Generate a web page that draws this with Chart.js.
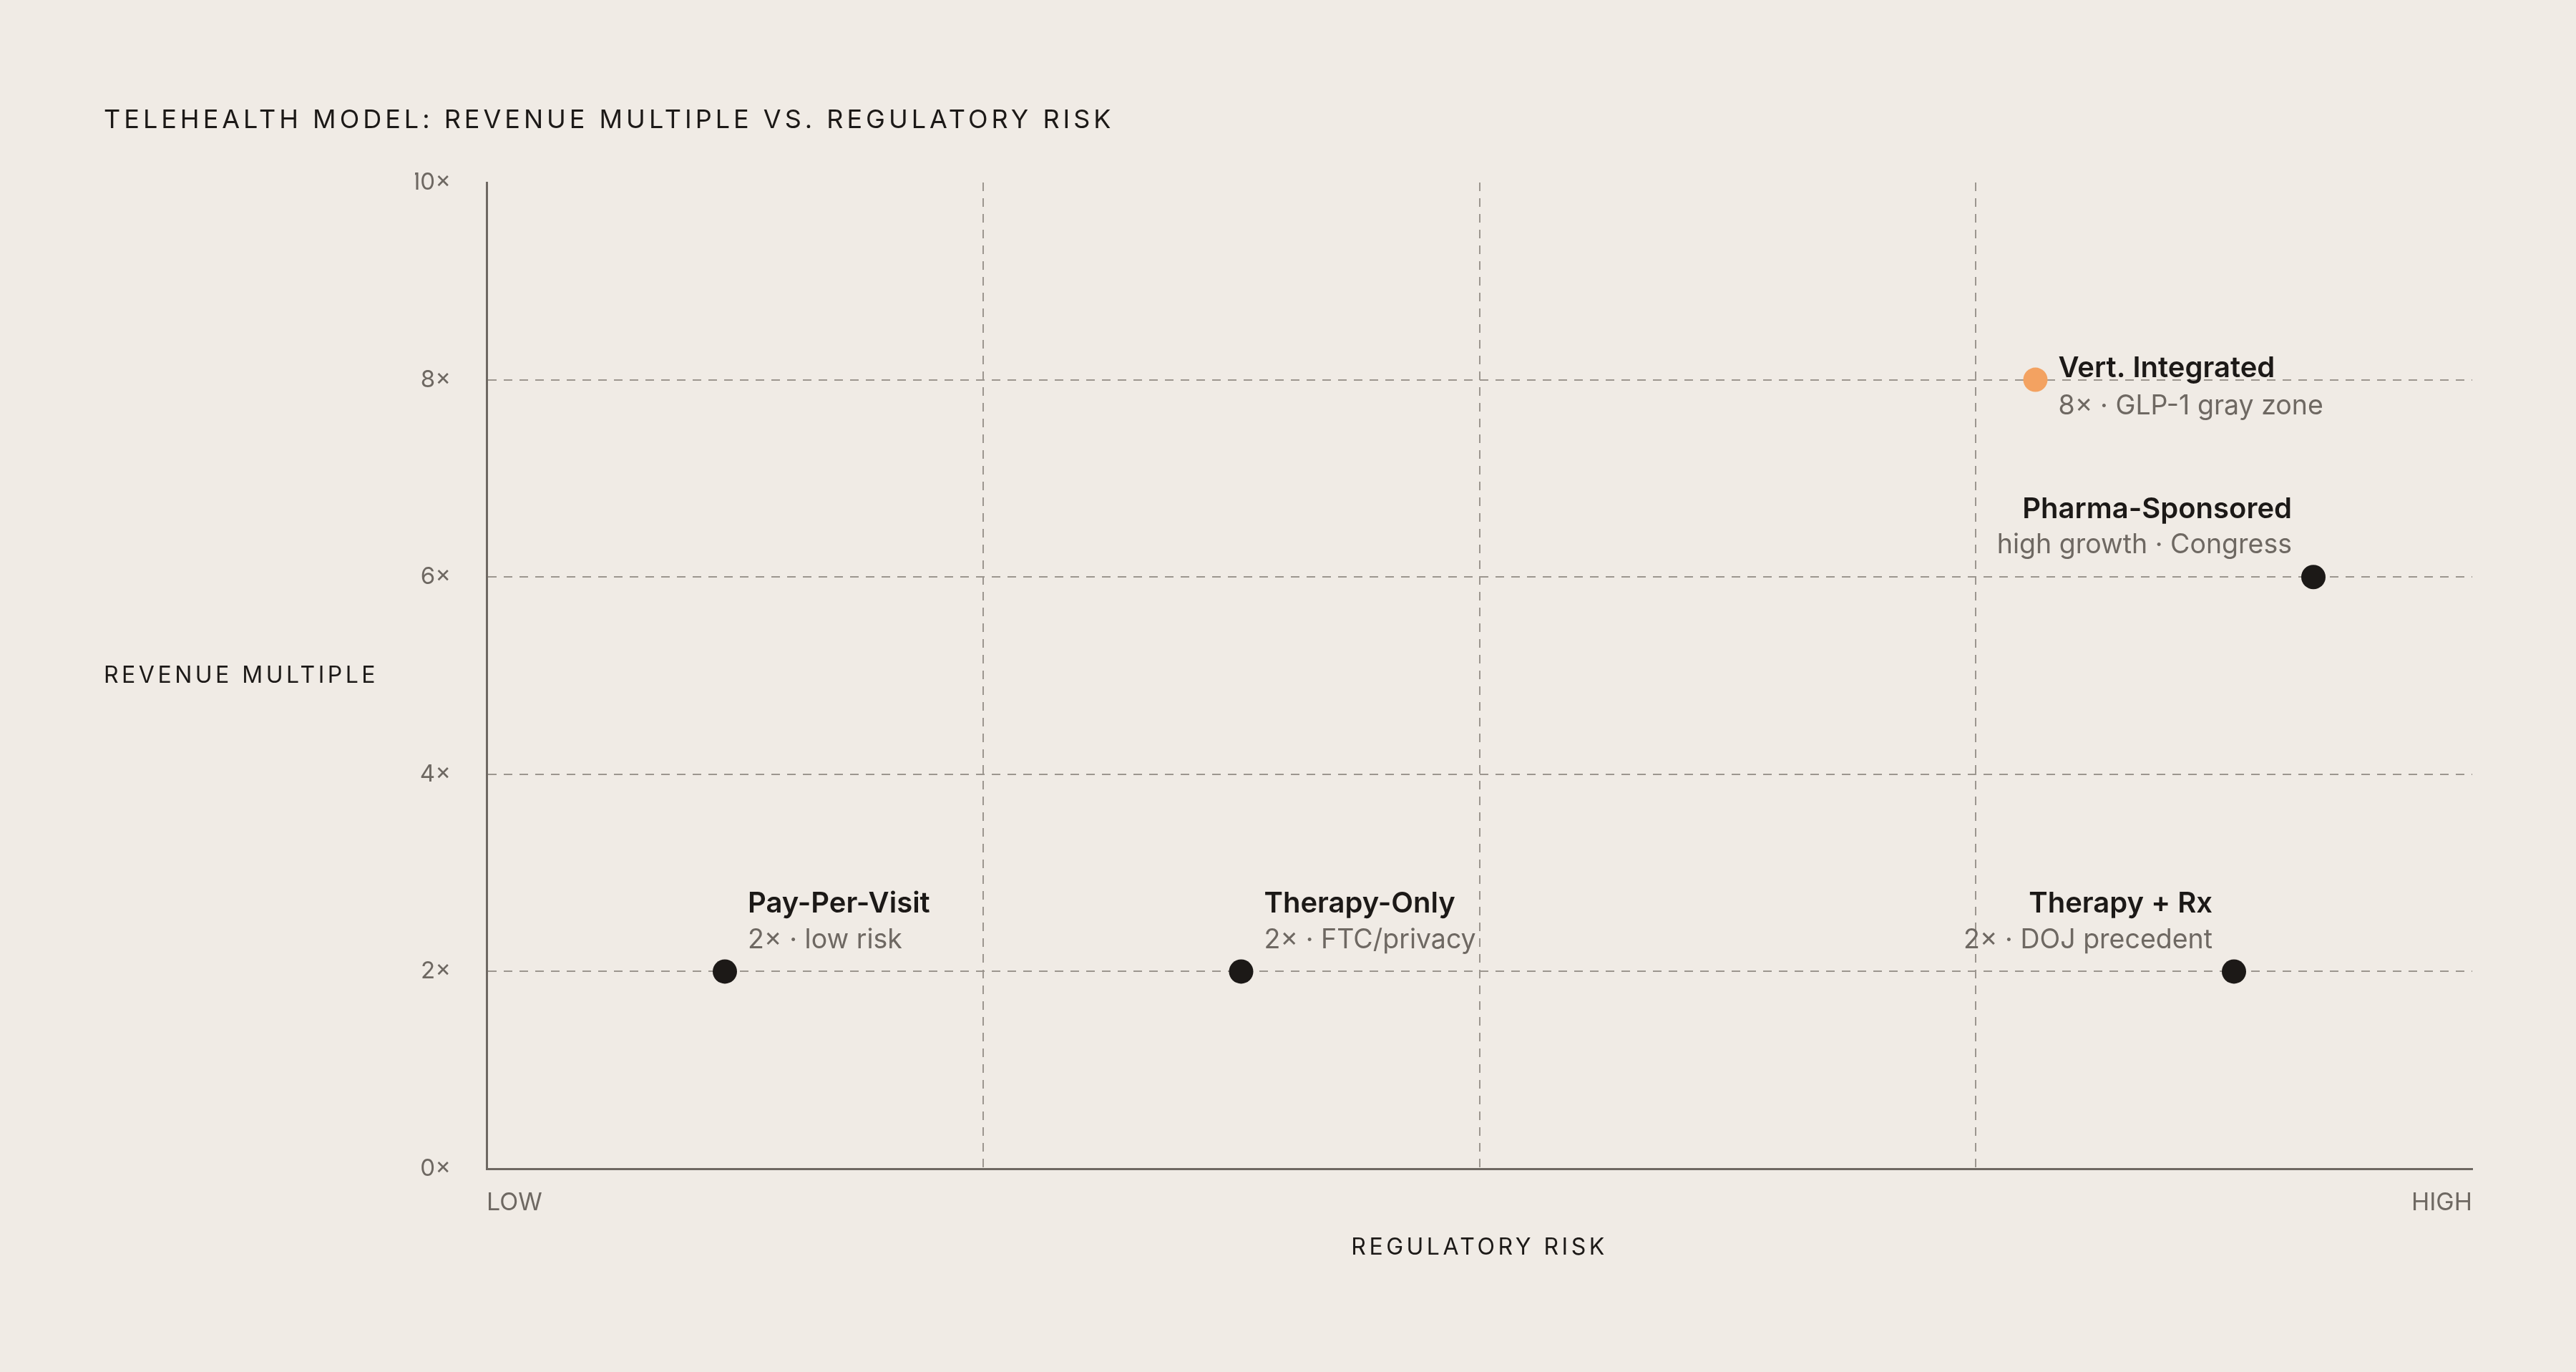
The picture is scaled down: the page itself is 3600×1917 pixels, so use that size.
<!DOCTYPE html>
<html>

<head>
  <meta charset="UTF-8">
  <title>Telehealth model</title>
  <script src="https://cdn.jsdelivr.net/npm/chart.js"></script>
  <style>
    html, body {
      margin: 0;
      padding: 0;
      background: #f0ebe5;
    }

    .wrap {
      width: 3600px;
      height: 1917px;
    }
  </style>
</head>

<body>
  <div class="wrap">
    <canvas id="riskChart" width="3600" height="1917"></canvas>
  </div>

  <script>
    // données
    const models = ['Pay-Per-Visit', 'Therapy-Only', 'Vert. Integrated', 'Pharma-Sponsored', 'Therapy + Rx'];
    const notes = ['2× · low risk', '2× · FTC/privacy', '8× · GLP-1 gray zone', 'high growth · Congress', '2× · DOJ precedent'];
    const riskScore = [12, 38, 78, 92, 88];        // 0 = LOW, 100 = HIGH
    const revenueMultiple = [2, 2, 8, 6, 2];
    const highlighted = [false, false, true, false, false];
    const yTicks = [0, 2, 4, 6, 8, 10];

    const INK = '#1c1917';
    const GREY = '#6e6862';
    const ORANGE = '#f3a261';
    const FONT = 'Inter, "DejaVu Sans", sans-serif';

    // où placer chaque étiquette par rapport au point
    const labelSide = ['above-right', 'above-right', 'beside', 'above-left', 'above-left'];

    const pointLabels = {
      id: 'pointLabels',
      afterDatasetsDraw(chart) {
        const ctx = chart.ctx;
        const meta = chart.getDatasetMeta(0);
        ctx.save();
        ctx.textBaseline = 'middle';
        meta.data.forEach((pt, i) => {
          const side = labelSide[i];
          let x, yTitle, yNote;
          if (side === 'beside') {
            x = pt.x + 32;
            yTitle = pt.y - 16;
            yNote = pt.y + 37;
            ctx.textAlign = 'left';
          } else {
            x = side === 'above-right' ? pt.x + 32 : pt.x - 30;
            yTitle = pt.y - 94;
            yNote = pt.y - 44;
            ctx.textAlign = side === 'above-right' ? 'left' : 'right';
          }
          ctx.fillStyle = INK;
          ctx.font = '600 40px ' + FONT;
          ctx.fillText(models[i], x, yTitle);
          ctx.fillStyle = GREY;
          ctx.font = '400 37.5px ' + FONT;
          ctx.fillText(notes[i], x, yNote);
        });
        ctx.restore();
      }
    };

    const headings = {
      id: 'headings',
      afterDraw(chart) {
        const ctx = chart.ctx;
        const area = chart.chartArea;
        ctx.save();
        ctx.fillStyle = INK;
        ctx.textBaseline = 'middle';

        ctx.letterSpacing = '5px';
        ctx.font = '400 36px ' + FONT;
        ctx.textAlign = 'left';
        ctx.fillText('TELEHEALTH MODEL: REVENUE MULTIPLE VS. REGULATORY RISK', 145, 168);

        ctx.letterSpacing = '4.5px';
        ctx.font = '400 32px ' + FONT;
        ctx.fillText('REVENUE MULTIPLE', 145, (area.top + area.bottom) / 2);

        ctx.textAlign = 'center';
        ctx.fillText('REGULATORY RISK', (area.left + area.right) / 2, 1743);
        ctx.restore();
      }
    };

    const innerOnly = (min, max, color) => c =>
      (c.tick && (c.tick.value === min || c.tick.value === max)) ? 'rgba(0,0,0,0)' : color;

    const ctx = document.getElementById('riskChart').getContext('2d');
    new Chart(ctx, {
      type: 'scatter',
      data: {
        datasets: [{
          label: 'Models',
          data: riskScore.map((r, i) => ({ x: r, y: revenueMultiple[i] })),
          backgroundColor: highlighted.map(h => h ? ORANGE : INK),
          borderWidth: 0,
          pointRadius: 17,
          pointHoverRadius: 17
        }]
      },
      options: {
        responsive: false,
        animation: false,
        events: [],
        layout: {
          padding: { top: 255, right: 145, bottom: 134, left: 580 }
        },
        plugins: {
          legend: { display: false },
          tooltip: { enabled: false }
        },
        scales: {
          x: {
            type: 'linear',
            min: 0,
            max: 100,
            afterFit: s => { s.height = 150; },
            ticks: {
              stepSize: 25,
              align: 'inner',
              maxRotation: 0,
              autoSkip: false,
              padding: 27,
              color: GREY,
              font: { family: FONT, size: 34 },
              callback: v => v === 0 ? 'LOW' : (v === 100 ? 'HIGH' : '')
            },
            grid: {
              drawTicks: false,
              lineWidth: 2,
              color: innerOnly(0, 100, '#9c968f')
            },
            border: { display: true, color: GREY, width: 3, dash: [12, 10] }
          },
          y: {
            min: 0,
            max: 10,
            afterFit: s => { s.width = 100; },
            afterBuildTicks: s => { s.ticks = yTicks.map(v => ({ value: v })); },
            ticks: {
              padding: 50,
              color: GREY,
              font: { family: FONT, size: 33 },
              callback: v => v + '×'
            },
            grid: {
              drawTicks: false,
              lineWidth: 2,
              color: innerOnly(0, 10, '#9c968f')
            },
            border: { display: true, color: GREY, width: 3, dash: [12, 10] }
          }
        }
      },
      plugins: [pointLabels, headings]
    });
  </script>
</body>

</html>
